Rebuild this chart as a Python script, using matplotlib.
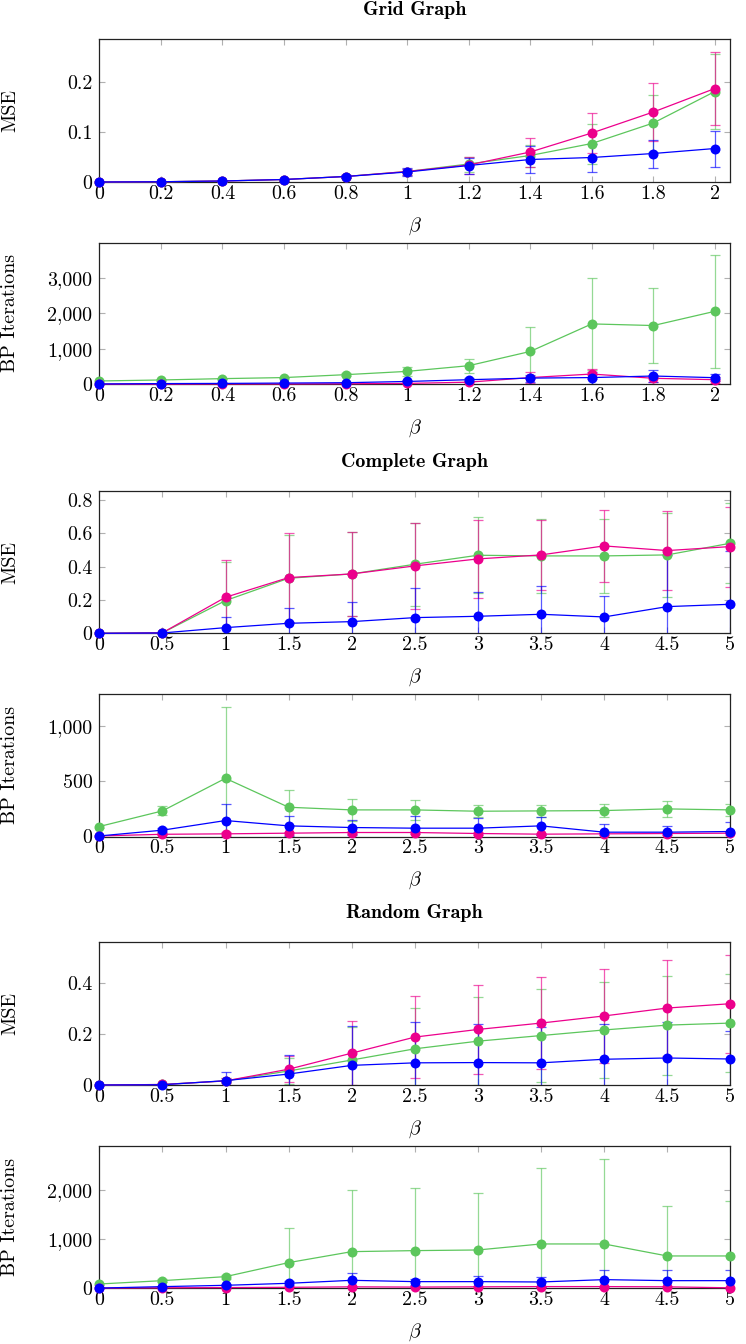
import matplotlib
matplotlib.use("Agg")
import matplotlib.pyplot as plt
from matplotlib.ticker import FuncFormatter, FixedLocator

plt.rcParams['font.family'] = 'serif'
plt.rcParams['font.serif'] = ['cmr10']
plt.rcParams['mathtext.fontset'] = 'cm'
plt.rcParams['axes.formatter.use_mathtext'] = True
plt.rcParams['axes.unicode_minus'] = False

# ---------------- data ----------------
x_grid = [0, 0.2, 0.4, 0.6, 0.8, 1.0, 1.2, 1.4, 1.6, 1.8, 2.0]
x_beta = [0, 0.5, 1.0, 1.5, 2.0, 2.5, 3.0, 3.5, 4.0, 4.5, 5.0]

# Grid graph - MSE
grid_mse_green = [0, 0.0005, 0.002, 0.005, 0.011, 0.021, 0.036, 0.053, 0.077, 0.118, 0.181]
grid_mse_green_err = [0, 0, 0.001, 0.002, 0.003, 0.006, 0.015, 0.022, 0.040, 0.057, 0.075]
grid_mse_pink = [0, 0.0005, 0.002, 0.005, 0.011, 0.021, 0.034, 0.060, 0.098, 0.140, 0.187]
grid_mse_pink_err = [0, 0, 0.001, 0.002, 0.003, 0.006, 0.017, 0.029, 0.040, 0.058, 0.073]
grid_mse_blue = [0, 0.0005, 0.002, 0.005, 0.011, 0.020, 0.033, 0.045, 0.049, 0.057, 0.067]
grid_mse_blue_err = [0, 0, 0.001, 0.002, 0.003, 0.008, 0.016, 0.027, 0.028, 0.028, 0.036]

# Grid graph - BP iterations
grid_bp_green = [94, 122, 160, 190, 272, 365, 525, 928, 1706, 1660, 2062]
grid_bp_green_err = [15, 20, 20, 25, 40, 120, 200, 690, 1290, 1060, 1590]
grid_bp_pink = [5, 5, 10, 10, 15, 25, 60, 190, 290, 170, 130]
grid_bp_pink_err = [2, 3, 5, 5, 8, 15, 40, 160, 150, 100, 80]
grid_bp_blue = [10, 20, 25, 35, 45, 80, 130, 175, 190, 234, 187]
grid_bp_blue_err = [3, 5, 8, 10, 15, 30, 60, 100, 170, 178, 100]

# Complete graph - MSE
comp_mse_green = [0, 0.003, 0.196, 0.330, 0.356, 0.414, 0.468, 0.464, 0.464, 0.470, 0.540]
comp_mse_green_err = [0, 0.005, 0.230, 0.260, 0.250, 0.250, 0.228, 0.220, 0.220, 0.250, 0.240]
comp_mse_pink = [0, 0.003, 0.216, 0.334, 0.356, 0.404, 0.446, 0.470, 0.524, 0.496, 0.520]
comp_mse_pink_err = [0, 0.005, 0.222, 0.266, 0.250, 0.256, 0.234, 0.210, 0.216, 0.238, 0.240]
comp_mse_blue = [0, 0.002, 0.034, 0.060, 0.070, 0.094, 0.102, 0.114, 0.098, 0.160, 0.174]
comp_mse_blue_err = [0, 0.004, 0.062, 0.090, 0.116, 0.180, 0.144, 0.170, 0.124, 0.310, 0.320]

# Complete graph - BP iterations
comp_bp_green = [90, 231, 525, 264, 240, 240, 228, 231, 234, 249, 240]
comp_bp_green_err = [10, 40, 640, 156, 96, 87, 54, 54, 60, 75, 55]
comp_bp_pink = [5, 20, 24, 30, 36, 36, 27, 21, 24, 27, 30]
comp_bp_pink_err = [3, 10, 15, 15, 15, 15, 12, 10, 12, 12, 12]
comp_bp_blue = [5, 57, 144, 96, 81, 75, 75, 96, 39, 39, 45]
comp_bp_blue_err = [3, 20, 147, 90, 66, 111, 90, 84, 78, 57, 90]

# Random graph - MSE
rand_mse_green = [0, 0.002, 0.016, 0.055, 0.098, 0.142, 0.172, 0.194, 0.216, 0.235, 0.243]
rand_mse_green_err = [0, 0.003, 0.010, 0.050, 0.130, 0.160, 0.173, 0.184, 0.187, 0.194, 0.191]
rand_mse_pink = [0, 0.002, 0.016, 0.062, 0.125, 0.188, 0.218, 0.243, 0.271, 0.302, 0.319]
rand_mse_pink_err = [0, 0.003, 0.010, 0.050, 0.125, 0.160, 0.174, 0.180, 0.185, 0.187, 0.192]
rand_mse_blue = [0, 0.001, 0.017, 0.043, 0.077, 0.087, 0.088, 0.087, 0.101, 0.106, 0.102]
rand_mse_blue_err = [0, 0.002, 0.034, 0.074, 0.155, 0.160, 0.150, 0.140, 0.140, 0.140, 0.110]

# Random graph - BP iterations
rand_bp_green = [88, 156, 238, 524, 748, 769, 782, 905, 905, 660, 660]
rand_bp_green_err = [15, 25, 40, 700, 1250, 1270, 1160, 1545, 1735, 1027, 1130]
rand_bp_pink = [5, 10, 15, 20, 30, 25, 30, 35, 35, 30, 10]
rand_bp_pink_err = [3, 5, 8, 10, 15, 12, 15, 15, 15, 15, 8]
rand_bp_blue = [5, 34, 61, 102, 163, 136, 136, 129, 177, 156, 156]
rand_bp_blue_err = [3, 10, 20, 40, 143, 60, 122, 109, 190, 211, 211]

titles = ["Grid Graph", "Complete Graph", "Random Graph"]
ylabels = ["MSE", "BP Iterations"]

GREEN = "#5cc65c"
PINK = "#ec008c"
BLUE = "#0000ff"

W, H = 746, 1344
fig = plt.figure(figsize=(W / 100, H / 100), dpi=100)

left = 99.3 / W
width = 631 / W
# (top px, bottom px)
boxes = [(39, 182), (242.7, 384.3), (490.7, 633.3), (694, 836.5), (942.3, 1085), (1145.7, 1288.3)]

panels = [
    (x_grid, [(grid_mse_green, grid_mse_green_err), (grid_mse_pink, grid_mse_pink_err), (grid_mse_blue, grid_mse_blue_err)],
     (0, 2.05), [0, 0.2, 0.4, 0.6, 0.8, 1.0, 1.2, 1.4, 1.6, 1.8, 2.0], (0, 0.286), [0, 0.1, 0.2], ylabels[0], titles[0]),
    (x_grid, [(grid_bp_green, grid_bp_green_err), (grid_bp_pink, grid_bp_pink_err), (grid_bp_blue, grid_bp_blue_err)],
     (0, 2.05), [0, 0.2, 0.4, 0.6, 0.8, 1.0, 1.2, 1.4, 1.6, 1.8, 2.0], (0, 4000), [0, 1000, 2000, 3000], ylabels[1], None),
    (x_beta, [(comp_mse_green, comp_mse_green_err), (comp_mse_pink, comp_mse_pink_err), (comp_mse_blue, comp_mse_blue_err)],
     (0, 5), x_beta, (0, 0.855), [0, 0.2, 0.4, 0.6, 0.8], ylabels[0], titles[1]),
    (x_beta, [(comp_bp_green, comp_bp_green_err), (comp_bp_pink, comp_bp_pink_err), (comp_bp_blue, comp_bp_blue_err)],
     (0, 5), x_beta, (0, 1286), [0, 500, 1000], ylabels[1], None),
    (x_beta, [(rand_mse_green, rand_mse_green_err), (rand_mse_pink, rand_mse_pink_err), (rand_mse_blue, rand_mse_blue_err)],
     (0, 5), x_beta, (0, 0.56), [0, 0.2, 0.4], ylabels[0], titles[2]),
    (x_beta, [(rand_bp_green, rand_bp_green_err), (rand_bp_pink, rand_bp_pink_err), (rand_bp_blue, rand_bp_blue_err)],
     (0, 5), x_beta, (0, 2910), [0, 1000, 2000], ylabels[1], None),
]


def fmt(v, pos):
    if abs(v) >= 1000:
        return "{:,}".format(int(round(v)))
    return "{:g}".format(v)


FS = 14.4
for (top, bot), (xs, series, xlim, xticks, ylim, yticks, ylab, title) in zip(boxes, panels):
    ax = fig.add_axes([left, 1 - bot / H, width, (bot - top) / H])
    for (vals, errs), col in zip(series, [GREEN, PINK, BLUE]):
        ax.errorbar(xs, vals, yerr=errs, fmt='none', ecolor=col, elinewidth=0.9,
                    capsize=3.6, capthick=0.9, alpha=0.65, zorder=2)
        ax.plot(xs, vals, color=col, lw=0.9, marker='o', markersize=7.2,
                markeredgewidth=0, clip_on=False, zorder=3)
    ax.set_xlim(*xlim)
    ax.set_ylim(*ylim)
    ax.xaxis.set_major_locator(FixedLocator(xticks))
    ax.yaxis.set_major_locator(FixedLocator(yticks))
    ax.xaxis.set_major_formatter(FuncFormatter(fmt))
    ax.yaxis.set_major_formatter(FuncFormatter(fmt))
    ax.tick_params(axis='both', which='major', direction='in', length=4, width=0.8,
                   color='#b0b0b0', labelsize=FS, top=True, right=True)
    ax.tick_params(axis='x', pad=2)
    ax.tick_params(axis='y', pad=5)
    for sp in ax.spines.values():
        sp.set_linewidth(0.9)
        sp.set_color('#222222')
    ax.set_xlabel(r'$\beta$', fontsize=FS)
    ax.xaxis.label.set_verticalalignment('center')
    ax.xaxis.set_label_coords(0.5, -44 / (bot - top))
    ax.set_ylabel(ylab, fontsize=FS)
    ax.yaxis.label.set_verticalalignment('center')
    ax.yaxis.set_label_coords((10.5 - 99.3) / 631, 0.5)
    if title:
        fig.text(left + width / 2, 1 - (top - 29) / H, title, fontsize=FS,
                 fontfamily='cmb10', ha='center', va='center')

fig.savefig("out.png", dpi=100)
